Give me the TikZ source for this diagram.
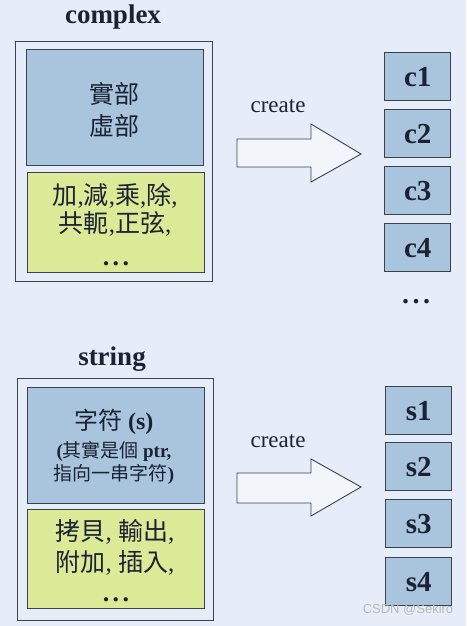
\documentclass[tikz,border=0pt]{standalone}
\usepackage{fontspec}
\setmainfont{Liberation Serif}
\newfontfamily\cjk{Noto Sans CJK TC}
\newfontfamily\wmfont{Liberation Sans}
\definecolor{bg}{HTML}{E6EDF8}
\definecolor{bluebox}{HTML}{A8C5DD}
\definecolor{yellowbox}{HTML}{DCEA98}
\definecolor{ink}{HTML}{1C2233}
\definecolor{edge}{HTML}{3A4250}
\tikzset{
  outerbox/.style={draw=edge, line width=0.9pt, anchor=north west, inner sep=0pt},
  blueblk/.style={draw=edge, line width=1.4pt, fill=bluebox, anchor=north west, inner sep=0pt},
  yellowblk/.style={draw=edge, line width=1.4pt, fill=yellowbox, anchor=north west, inner sep=0pt},
  objbox/.style={draw=edge, line width=1.4pt, fill=bluebox, minimum width=66pt, minimum height=48pt, inner sep=0pt, anchor=north west, font=\fontsize{29}{30}\selectfont\bfseries, text=ink},
  title/.style={font=\fontsize{27}{28}\selectfont\bfseries, text=ink},
  createlbl/.style={font=\fontsize{23}{24}\selectfont, text=ink},
  bigarrow/.style={draw=edge, line width=0.9pt, fill=white!50!bg, line join=miter},
  cjktext/.style={text=ink, align=center},
  dotsnode/.style={text=ink, anchor=base, inner sep=0pt, font=\fontsize{26}{26}\selectfont\bfseries}
}
\newcommand{\spdots}{.\hspace{3.5pt}.\hspace{3.5pt}.}
\begin{document}
\begin{tikzpicture}[x=1pt,y=-1pt]
\fill[bg] (0,0) rectangle (466,626);
\useasboundingbox (0,0) rectangle (466,626);

% ---- complex ----
\node[title] (ctitle) at (113,17) {complex};
\node[outerbox, minimum width=197pt, minimum height=240pt] (cout) at (15,41) {};
\node[blueblk, minimum width=177pt, minimum height=116pt] (cblue) at (26,49) {};
\node[yellowblk, minimum width=177pt, minimum height=100pt] (cyel) at (27,172) {};
\node[cjktext, font=\fontsize{25}{32}\selectfont] (cdata) at (114,110) {\cjk 實部\\\cjk 虛部};
\node[cjktext, font=\fontsize{25}{28}\selectfont] (cops) at (115,210) {\cjk 加\rmfamily,\cjk 減\rmfamily,\cjk 乘\rmfamily,\cjk 除\rmfamily,\\\cjk 共軛\rmfamily,\cjk 正弦\rmfamily,};
\node[dotsnode] (cdots) at (116,265) {\spdots};

% arrow 1
\node[createlbl] (create1) at (278,106) {create};
\draw[bigarrow] (237,139) -- (311,139) -- (311,124) -- (361,154) -- (311,182) -- (311,167) -- (237,167) -- cycle;

% c objects
\node[objbox] (c1) at (384,52) {c1};
\node[objbox] (c2) at (384,109) {c2};
\node[objbox] (c3) at (384,166) {c3};
\node[objbox] (c4) at (384,223) {c4};
\node[dotsnode, font=\fontsize{28}{28}\selectfont\bfseries] (cmore) at (416,303) {\spdots};

% ---- string ----
\node[title] (stitle) at (112,359) {string};
\node[outerbox, minimum width=196pt, minimum height=242pt] (sout) at (17,378) {};
\node[blueblk, minimum width=177pt, minimum height=116pt] (sblue) at (27,387) {};
\node[yellowblk, minimum width=177pt, minimum height=99pt] (syel) at (27,509) {};
\node[text=ink, font=\fontsize{24}{26}\selectfont] (sdata) at (114,422) {\cjk 字符 \rmfamily\bfseries(s)};
\node[cjktext, font=\fontsize{19}{23}\selectfont] (snote) at (114,463) {\rmfamily\bfseries(\cjk\mdseries 其實是個 \rmfamily\bfseries ptr,\\\cjk 指向一串字符\rmfamily\bfseries)};
\node[cjktext, font=\fontsize{25}{31}\selectfont] (sops) at (115,547) {\cjk 拷貝\rmfamily, \cjk 輸出\rmfamily,\\\cjk 附加\rmfamily, \cjk 插入\rmfamily,};
\node[dotsnode] (sdots) at (116,601) {\spdots};

% arrow 2
\node[createlbl] (create2) at (278,441) {create};
\draw[bigarrow] (237,473) -- (311,473) -- (311,459) -- (361,487) -- (311,516) -- (311,503) -- (237,503) -- cycle;

% s objects
\node[objbox] (s1) at (385,386) {s1};
\node[objbox] (s2) at (385,442) {s2};
\node[objbox] (s3) at (385,499) {s3};
\node[objbox] (s4) at (385,557) {s4};

% watermark
\node[text=gray!55, font=\wmfont\fontsize{13}{13}\selectfont] (wm) at (408,610) {CSDN @Sekiro};
\end{tikzpicture}
\end{document}
